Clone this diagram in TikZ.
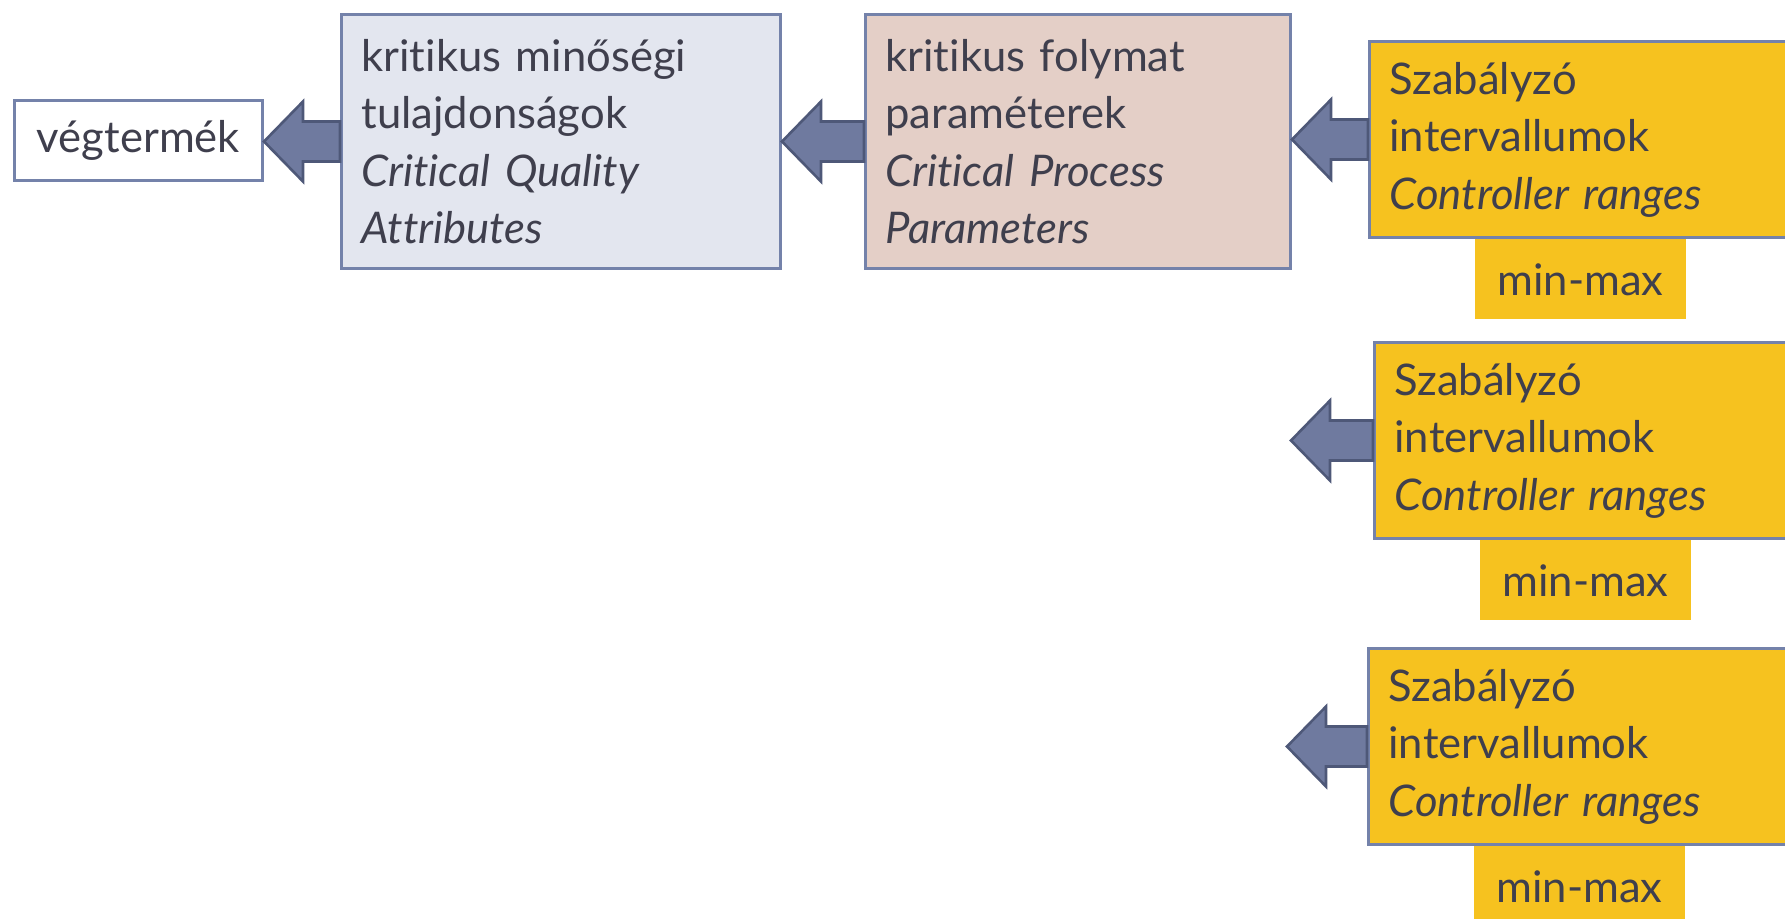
\documentclass[tikz,border=0pt]{standalone}
\usepackage{fontspec}
\setmainfont[Ligatures=NoCommon]{Lato}
\usetikzlibrary{positioning,calc}

\definecolor{boxline}{HTML}{7482AA}
\definecolor{cqafill}{HTML}{E3E6EF}
\definecolor{cppfill}{HTML}{E4CFC7}
\definecolor{ctrlfill}{HTML}{F6C21F}
\definecolor{arrowfill}{HTML}{6F7A9F}
\definecolor{arrowline}{HTML}{4E5878}
\definecolor{textcol}{HTML}{3F3F4D}

\tikzset{
  box/.style={draw=boxline, line width=1.5pt, anchor=north west, inner xsep=10pt,
    align=left, text=textcol, font=\fontsize{21.8}{28.75}\selectfont},
  ctrl/.style={box, fill=ctrlfill, minimum width=211pt, minimum height=98pt,
    text width=191pt},
  minmax/.style={fill=ctrlfill, minimum width=105.5pt, minimum height=40pt,
    text=textcol, font=\fontsize{21.8}{28.75}\selectfont},
  fat arrow/.style={draw=arrowline, fill=arrowfill, line width=1.3pt, line join=miter,
    to path={let \p1=(\tikztostart), \p2=(\tikztotarget) in
      (\x1,\y1+10pt) -- (\x2+19.5pt,\y1+10pt) -- (\x2+19.5pt,\y1+20pt) --
      (\x2,\y1) -- (\x2+19.5pt,\y1-20pt) -- (\x2+19.5pt,\y1-10pt) --
      (\x1,\y1-10pt) -- cycle}}
}

\begin{document}
\begin{tikzpicture}[x=0.5pt, y=-0.5pt]
\useasboundingbox (0,0) rectangle (1785,918);
\clip (0,0) rectangle (1785,918);

\pgfmathsetmacro\colA{340};
\pgfmathsetmacro\colB{864};
\pgfmathsetmacro\topRow{13};

% product and the two chain boxes
\node [box, fill=white, align=center, minimum width=124pt, minimum height=40pt]
  (vegtermek) at (13, 99) {végtermék};

\node [box, fill=cqafill, minimum width=219.5pt, minimum height=127pt, text width=199.5pt]
  (cqa) at (\colA, \topRow)
  {kritikus minőségi\\ tulajdonságok\\ \textit{Critical Quality}\\ \textit{Attributes}};

\node [box, fill=cppfill, minimum width=212.5pt, minimum height=127pt, text width=192.5pt]
  (cpp) at (\colB, \topRow)
  {kritikus folymat\\ paraméterek\\ \textit{Critical Process}\\ \textit{Parameters}};

% controller boxes
\node [ctrl] (ctrlA) at (1368, 40)
  {Szabályzó\\ intervallumok\\ \textit{Controller ranges}};
\node [ctrl] (ctrlB) at (1373, 341)
  {Szabályzó\\ intervallumok\\ \textit{Controller ranges}};
\node [ctrl] (ctrlC) at (1367, 647)
  {Szabályzó\\ intervallumok\\ \textit{Controller ranges}};

\node [minmax, below=0pt of ctrlA] (rangeA) {min-max};
\node [minmax, below=0pt of ctrlB] (rangeB) {min-max};
\node [minmax, below=0pt of ctrlC] (rangeC) {min-max};

% free ends
\coordinate (tipB) at (1291, 439);
\coordinate (tipC) at (1287, 745);

% arrows
\draw [fat arrow] (cqa.west) to (vegtermek.east);
\draw [fat arrow] (cpp.west) to (cqa.east);
\draw [fat arrow] (ctrlA.west) to (cpp.east);
\draw [fat arrow] (ctrlB.west) to (tipB);
\draw [fat arrow] (ctrlC.west) to (tipC);

\end{tikzpicture}
\end{document}
